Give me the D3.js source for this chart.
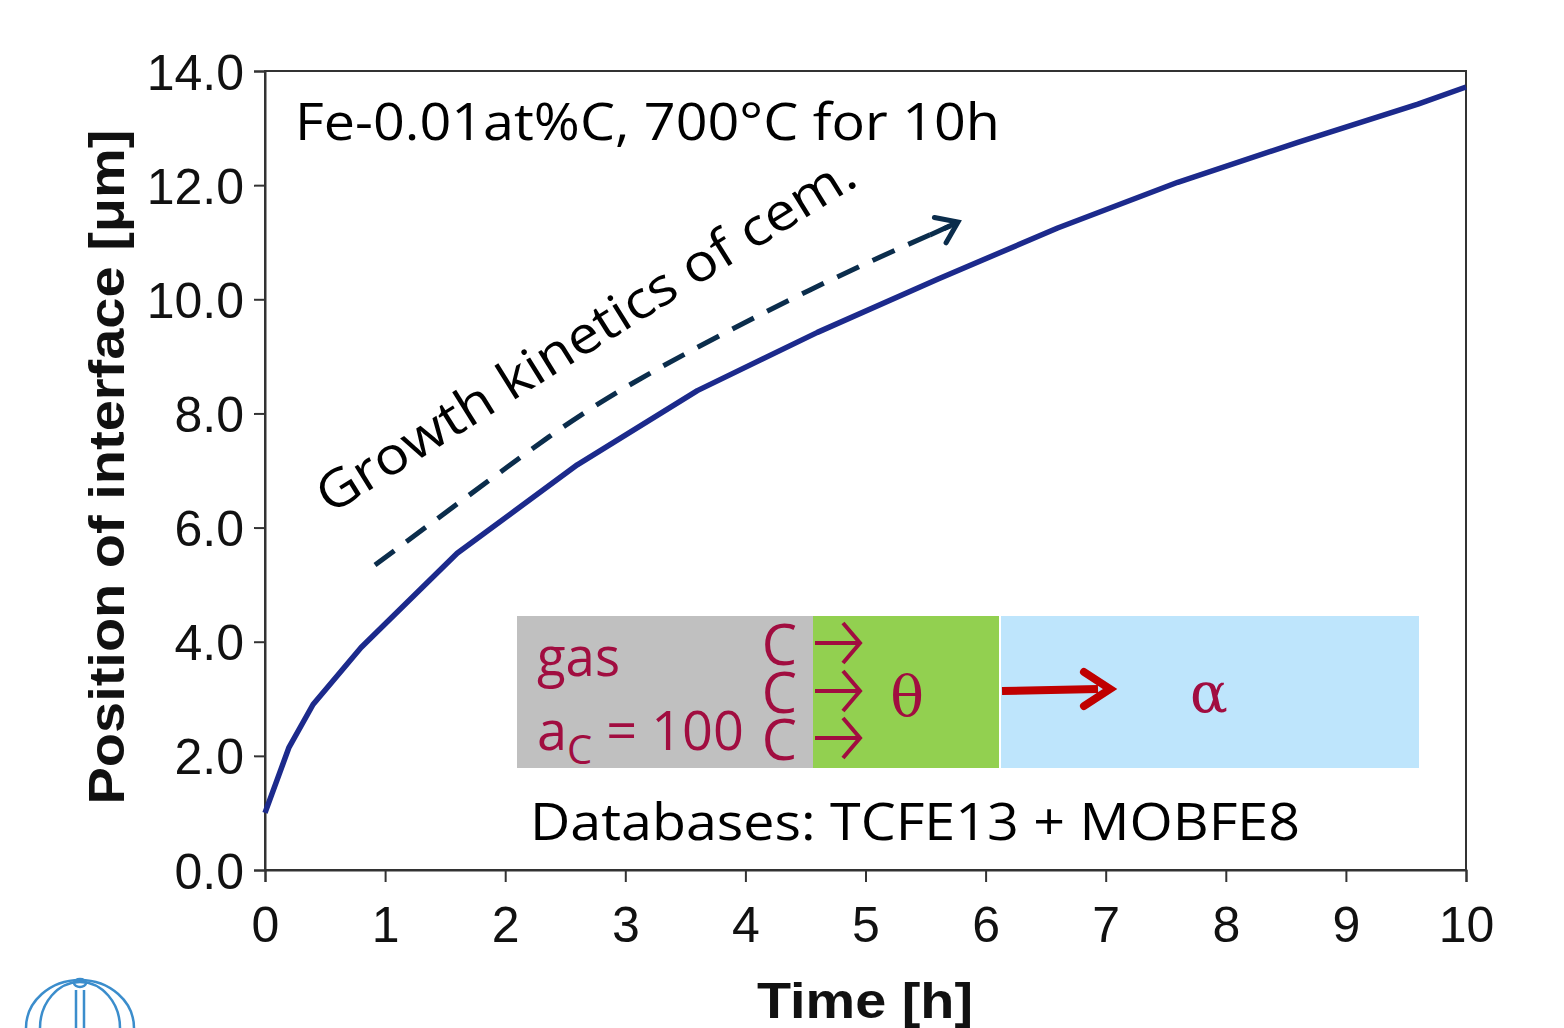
<!DOCTYPE html>
<meta charset="utf-8" />
<html lang="en">
  <head>
    <script src="https://d3js.org/d3.v7.min.js"></script>
    <style>
      body { margin: 0; background: #fff; }
      svg text.tick-lbl { font: 50px "Liberation Sans", Arial, sans-serif; fill: #111; }
      .axis-title { font: bold 50px "Liberation Sans", Arial, sans-serif; fill: #111; }
      .note { font-family: "Open Sans", "Noto Sans", sans-serif; fill: #000; }
      .inset { font-family: "Open Sans", "Noto Sans", sans-serif; fill: #a10d40; }
      .greek { font-family: "DejaVu Serif", "Liberation Serif", serif; fill: #a10d40; }
    </style>
  </head>
  <body>
    <svg width="1564" height="1028"></svg>
    <script>
      // interface position vs time
      var timeH = [0, 0.2, 0.4, 0.8, 1.6, 2.6, 3.6, 4.6, 5.6, 6.6, 7.6, 8.6, 9.6, 10];
      var posUm = [1.0, 2.15, 2.9, 3.9, 5.55, 7.1, 8.4, 9.42, 10.35, 11.25, 12.05, 12.75, 13.42, 13.72];
      var xTicks = [0, 1, 2, 3, 4, 5, 6, 7, 8, 9, 10];
      var yTicks = [0, 2, 4, 6, 8, 10, 12, 14];

      var svg = d3.select("svg");
      var pLeft = 265, pRight = 1466, pTop = 71, pBottom = 870;

      var x = d3.scaleLinear().domain([0, 10]).range([pLeft, pRight]);
      var y = d3.scaleLinear().domain([0, 14]).range([pBottom, pTop]);

      // frame
      svg.append("rect")
        .attr("x", pLeft).attr("y", pTop)
        .attr("width", pRight - pLeft).attr("height", pBottom - pTop)
        .attr("fill", "none").attr("stroke", "#333").attr("stroke-width", 2);

      var yAxis = svg.append("g")
        .attr("transform", "translate(" + pLeft + ",0)")
        .call(d3.axisLeft(y).tickValues(yTicks).tickSize(11).tickPadding(10).tickFormat(d3.format(".1f")));
      var xAxis = svg.append("g")
        .attr("transform", "translate(0," + pBottom + ")")
        .call(d3.axisBottom(x).tickValues(xTicks).tickSize(12).tickPadding(24).tickFormat(d3.format("d")));
      [xAxis, yAxis].forEach(function(a) {
        a.select(".domain").attr("stroke", "#333").attr("stroke-width", 2);
        a.selectAll(".tick line").attr("stroke", "#333").attr("stroke-width", 2);
        a.selectAll(".tick text").attr("class", "tick-lbl");
        a.attr("font-size", null).attr("font-family", null);
      });
      yAxis.selectAll(".tick text").attr("dy", "0.36em");

      // axis titles
      svg.append("text")
        .attr("class", "axis-title")
        .attr("transform", "translate(124,467) rotate(-90)")
        .attr("text-anchor", "middle")
        .attr("textLength", 675).attr("lengthAdjust", "spacingAndGlyphs")
        .text("Position of interface [μm]");
      svg.append("text")
        .attr("class", "axis-title")
        .attr("x", 865).attr("y", 1018)
        .attr("text-anchor", "middle")
        .attr("textLength", 216).attr("lengthAdjust", "spacingAndGlyphs")
        .text("Time [h]");

      // curve
      var line = d3.line().x(function(d) { return x(d[0]); }).y(function(d) { return y(d[1]); });
      svg.append("path")
        .datum(d3.zip(timeH, posUm))
        .attr("d", line)
        .attr("fill", "none")
        .attr("stroke", "#1c2a8c")
        .attr("stroke-width", 5.5)
        .attr("stroke-linejoin", "round");

      // annotation text
      svg.append("text")
        .attr("class", "note")
        .attr("x", 295).attr("y", 140)
        .attr("font-size", 52)
        .attr("textLength", 705).attr("lengthAdjust", "spacingAndGlyphs")
        .text("Fe-0.01at%C, 700°C for 10h");

      svg.append("text")
        .attr("class", "note")
        .attr("transform", "translate(330,515) rotate(-32)")
        .attr("font-size", 52)
        .attr("textLength", 625).attr("lengthAdjust", "spacingAndGlyphs")
        .text("Growth kinetics of cem.");

      // curved dashed arrow (annotation, in pixels)
      var arrowPath = [[375, 565], [510, 465], [633, 383], [810, 290], [950, 226]];
      var tip = [958, 222];
      svg.append("path")
        .attr("d", d3.line().curve(d3.curveNatural)(arrowPath))
        .attr("fill", "none")
        .attr("stroke", "#0b2d4c").attr("stroke-width", 5)
        .attr("stroke-dasharray", "24,15");
      var ang = Math.atan2(-0.46, 1);
      var hl = 24;
      svg.append("path")
        .attr("d", "M" + (tip[0] - hl * Math.cos(ang - 0.62)) + "," + (tip[1] - hl * Math.sin(ang - 0.62)) +
          "L" + tip[0] + "," + tip[1] +
          "L" + (tip[0] - hl * Math.cos(ang + 0.62)) + "," + (tip[1] - hl * Math.sin(ang + 0.62)))
        .attr("fill", "none").attr("stroke", "#0b2d4c").attr("stroke-width", 5)
        .attr("stroke-linecap", "round").attr("stroke-linejoin", "miter");
      svg.append("line")
        .attr("x1", 930).attr("y1", 235).attr("x2", tip[0] - 3).attr("y2", tip[1] + 1.5)
        .attr("stroke", "#0b2d4c").attr("stroke-width", 5);

      // inset diagram
      var inset = svg.append("g");
      inset.append("rect").attr("x", 517).attr("y", 616).attr("width", 296).attr("height", 152).attr("fill", "#c0c0c0");
      inset.append("rect").attr("x", 813).attr("y", 616).attr("width", 186).attr("height", 152).attr("fill", "#92d050");
      inset.append("rect").attr("x", 1001).attr("y", 616).attr("width", 418).attr("height", 152).attr("fill", "#bee5fc");

      inset.append("text").attr("class", "inset").attr("x", 537).attr("y", 676).attr("font-size", 54)
        .attr("textLength", 83).attr("lengthAdjust", "spacingAndGlyphs").text("gas");
      var ac = inset.append("text").attr("class", "inset").attr("x", 537).attr("y", 750).attr("font-size", 54);
      ac.append("tspan").text("a");
      ac.append("tspan").attr("font-size", 40).attr("dy", 14).text("C");
      ac.append("tspan").attr("dy", -14).text(" = 100");

      [665, 713, 760].forEach(function(by) {
        inset.append("text").attr("class", "inset").attr("x", 797).attr("y", by)
          .attr("font-size", 56).attr("text-anchor", "end").text("C");
        inset.append("path")
          .attr("d", "M815," + (by - 22) + "H860M843," + (by - 42) + "L860," + (by - 22) + "L843," + (by - 2))
          .attr("fill", "none").attr("stroke", "#a10d40").attr("stroke-width", 4);
      });
      inset.append("text").attr("class", "greek").attr("x", 907).attr("y", 716)
        .attr("font-size", 56).attr("text-anchor", "middle").text("θ");
      inset.append("text").attr("class", "greek").attr("x", 1209).attr("y", 712)
        .attr("font-size", 56).attr("text-anchor", "middle").text("α");
      inset.append("path")
        .attr("d", "M1002,691L1098,689")
        .attr("stroke", "#c00000").attr("stroke-width", 8).attr("fill", "none");
      inset.append("path")
        .attr("d", "M1084,672L1110,689L1084,706")
        .attr("stroke", "#c00000").attr("stroke-width", 8).attr("fill", "none")
        .attr("stroke-linecap", "round").attr("stroke-linejoin", "miter");

      svg.append("text")
        .attr("class", "note")
        .attr("x", 530).attr("y", 840)
        .attr("font-size", 52)
        .attr("textLength", 770).attr("lengthAdjust", "spacingAndGlyphs")
        .text("Databases: TCFE13 + MOBFE8");

      // logo fragment bottom-left
      var logo = svg.append("g").attr("fill", "none").attr("stroke", "#3b8dcc").attr("stroke-width", 2.5);
      logo.append("ellipse").attr("cx", 80).attr("cy", 983).attr("rx", 6).attr("ry", 4);
      logo.append("path").attr("d", "M26,1028 A54,48 0 0 1 134,1028");
      logo.append("path").attr("d", "M40,1028 A40,46 0 0 1 120,1028");
      logo.append("path").attr("d", "M76,990V1028M84,990V1028");
    </script>
  </body>
</html>
